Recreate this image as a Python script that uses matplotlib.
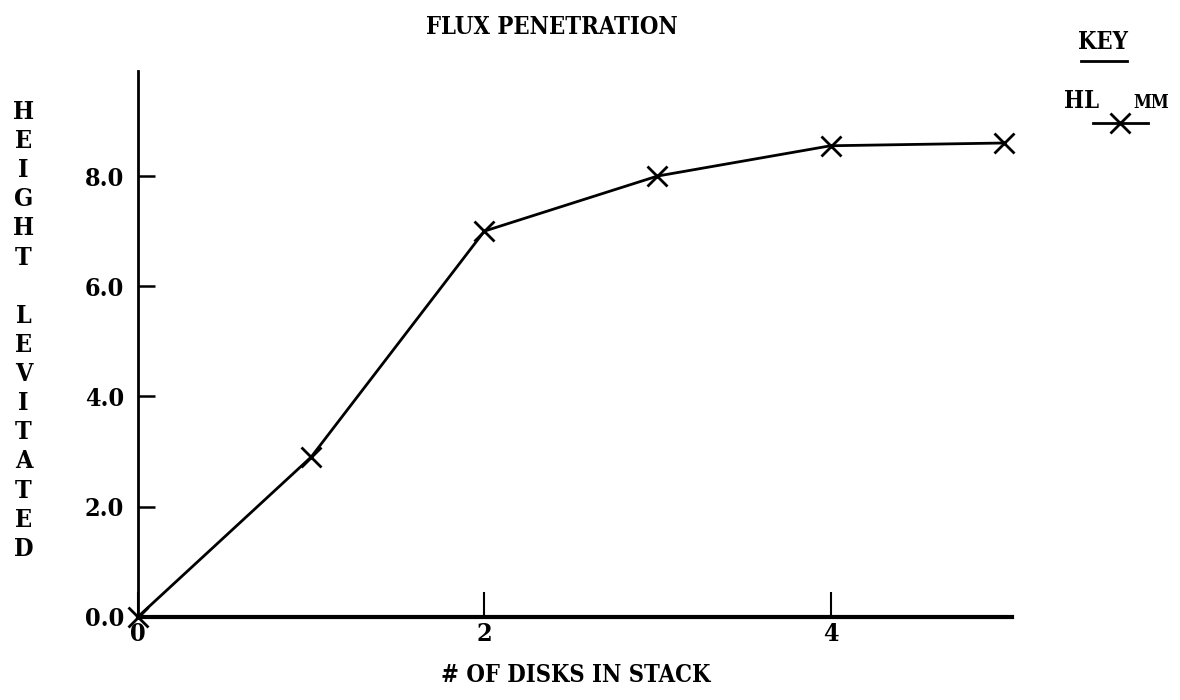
import matplotlib.pyplot as plt

# number of disks vs height levitated (mm)
disks = [0, 1, 2, 3, 4, 5]
height = [0.0, 2.9, 7.0, 8.0, 8.55, 8.6]

xticks = [0, 2, 4]
yticks = [0.0, 2.0, 4.0, 6.0, 8.0]

plt.rcParams['font.family'] = ['DejaVu Serif']
plt.rcParams['font.stretch'] = 'condensed'
plt.rcParams['font.weight'] = 'bold'

fig = plt.figure(figsize=(11.8, 7), dpi=100)
ax = fig.add_axes([0.117, 0.119, 0.741, 0.779])

ax.plot(disks, height, color='black', lw=2.0, marker='x', ms=15, mew=2.0,
        clip_on=False)

ax.set_xlim(0, 5.05)
ax.set_ylim(0, 9.9)
ax.spines['top'].set_visible(False)
ax.spines['right'].set_visible(False)
ax.spines['left'].set_linewidth(2.0)
ax.spines['bottom'].set_linewidth(3.0)

ax.set_xticks(xticks)
ax.set_xticklabels([str(t) for t in xticks])
ax.set_yticks(yticks)
ax.set_yticklabels(['%.1f' % t for t in yticks])
ax.tick_params(axis='y', direction='in', length=12, width=1.8,
               labelsize=18, pad=10)
ax.tick_params(axis='x', direction='in', length=18, width=1.5,
               labelsize=18, pad=4)

ax.set_xlabel('# OF DISKS IN STACK', fontsize=17, fontweight='bold', labelpad=12)

fig.text(0.468, 0.962, 'FLUX PENETRATION', fontsize=17, fontweight='bold',
         ha='center', va='center')

ylabel = '\n'.join(list('HEIGHT')) + '\n\n' + '\n'.join(list('LEVITATED'))
fig.text(0.02, 0.528, ylabel, fontsize=18, fontweight='bold', ha='center',
         va='center', linespacing=1.27)

# key
fig.text(0.935, 0.94, 'KEY', fontsize=17, fontweight='bold', ha='center',
         va='center')
fig.add_artist(plt.Line2D([0.916, 0.955], [0.913, 0.913], color='black', lw=2.0))
fig.text(0.917, 0.845, 'HL', fontsize=17, fontweight='bold', ha='center',
         va='baseline')
fig.text(0.976, 0.845, 'MM', fontsize=13, fontweight='bold', ha='center',
         va='baseline')
fig.add_artist(plt.Line2D([0.926, 0.9495, 0.973], [0.825, 0.825, 0.825],
                          color='black', lw=2.0, marker='x', ms=15, mew=2.0,
                          markevery=[1], transform=fig.transFigure))

fig.savefig('out.png', dpi=100)
